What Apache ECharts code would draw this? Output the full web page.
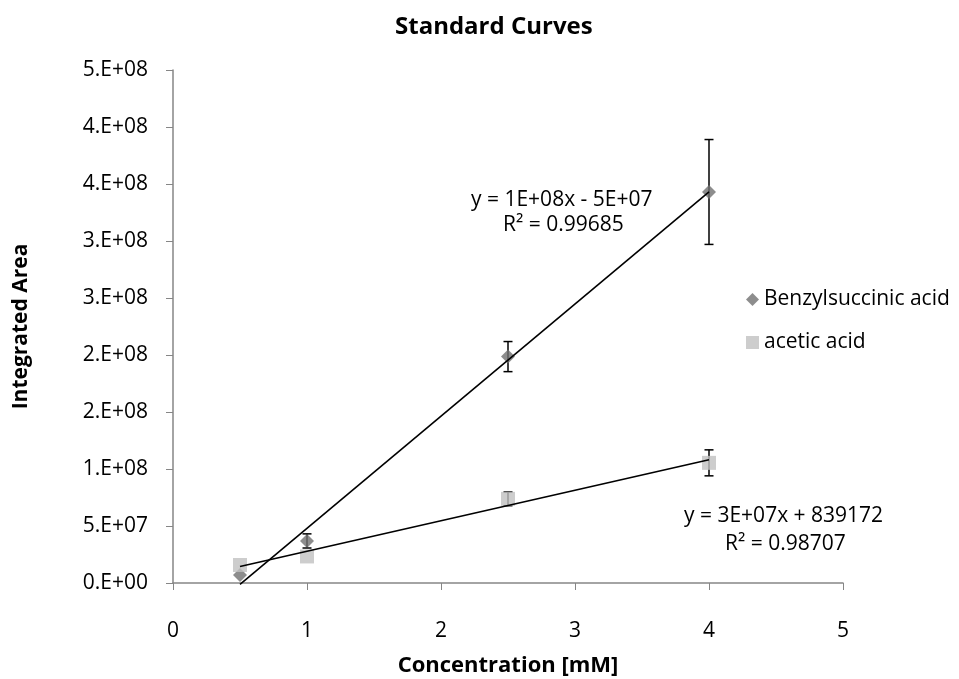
<!DOCTYPE html>
<html>
<head>
<meta charset="utf-8">
<script src="https://cdn.jsdelivr.net/npm/echarts@6/dist/echarts.min.js"></script>
<style>html,body{margin:0;padding:0;background:#fff}#c{width:959px;height:679px}</style>
</head>
<body>
<div id="c"></div>
<script>
const concentrations = [0.5, 1, 2.5, 4];
const benzylValues = [7.0e6, 3.69e7, 1.986e8, 3.43e8];
const benzylErrors = [0, 6.2e6, 1.32e7, 4.6e7];
const aceticValues = [1.58e7, 2.33e7, 7.38e7, 1.054e8];
const aceticErrors = [0, 0, 6.0e6, 1.14e7];
const yTickLabels = ['0.E+00','5.E+07','1.E+08','2.E+08','2.E+08','3.E+08','3.E+08','4.E+08','4.E+08','5.E+08'];
const xTickLabels = ['0','1','2','3','4','5'];
const benzylEq = ['y = 1E+08x - 5E+07', 'R² = 0.99685'];
const aceticEq = ['y = 3E+07x + 839172', 'R² = 0.98707'];

function fit(xs, ys) {
  const n = xs.length;
  const mx = xs.reduce((a,b)=>a+b,0)/n, my = ys.reduce((a,b)=>a+b,0)/n;
  let sxy = 0, sxx = 0;
  for (let i=0;i<n;i++){ sxy += (xs[i]-mx)*(ys[i]-my); sxx += (xs[i]-mx)**2; }
  const m = sxy/sxx; return {m, b: my - m*mx};
}
function trend(xs, ys) {
  const f = fit(xs, ys);
  const x0 = Math.min(...xs), x1 = Math.max(...xs);
  return [[x0, f.m*x0+f.b], [x1, f.m*x1+f.b]];
}
function errData(vals, errs) {
  return concentrations.map((x,i)=>[x, vals[i]-errs[i], vals[i]+errs[i]]);
}
function errRender(params, api) {
  const x = api.value(0), lo = api.value(1), hi = api.value(2);
  if (hi === lo) return null;
  const p1 = api.coord([x, lo]), p2 = api.coord([x, hi]);
  const w = 4.5;
  const st = {stroke:'#000', lineWidth:1.5};
  return {type:'group', children:[
    {type:'line', shape:{x1:p1[0],y1:p1[1],x2:p2[0],y2:p2[1]}, style:st},
    {type:'line', shape:{x1:p1[0]-w,y1:p1[1],x2:p1[0]+w,y2:p1[1]}, style:st},
    {type:'line', shape:{x1:p2[0]-w,y1:p2[1],x2:p2[0]+w,y2:p2[1]}, style:st}
  ]};
}
const FONT = '"Open Sans"';
const TXT = 21;
const chart = echarts.init(document.getElementById('c'));
chart.setOption({
  animation: false,
  backgroundColor: '#fff',
  textStyle: {fontFamily: FONT},
  title: {text: 'Standard Curves', left: 390, top: 10,
    textStyle: {fontFamily: FONT, fontSize: 24, fontWeight: 'bold', color: '#000'}},
  grid: {left: 173, right: 116, top: 70, bottom: 96, containLabel: false, outerBoundsMode: 'none'},
  legend: {
    orient: 'vertical', left: 741, top: 284, itemGap: 22,
    itemWidth: 13, itemHeight: 13,
    data: [{name:'Benzylsuccinic acid', icon:'diamond'}, {name:'acetic acid', icon:'rect'}],
    textStyle: {fontFamily: FONT, fontSize: TXT, color: '#000'}
  },
  xAxis: {
    type: 'value', min: 0, max: 5, interval: 1,
    name: 'Concentration [mM]', nameLocation: 'middle', nameGap: 72,
    nameTextStyle: {fontFamily: FONT, fontSize: 22, fontWeight: 'bold', color: '#000'},
    axisLine: {show: true, lineStyle: {color: '#868686', width: 1.5}},
    axisTick: {show: true, length: 7, lineStyle: {color: '#868686'}},
    axisLabel: {fontFamily: FONT, fontSize: 21, color: '#000', margin: 38,
      formatter: v => xTickLabels[Math.round(v)]},
    splitLine: {show: false}
  },
  yAxis: {
    type: 'value', min: 0, max: 4.5e8, interval: 5e7,
    name: 'Integrated Area', nameLocation: 'middle', nameGap: 141, nameRotate: 90,
    nameTextStyle: {fontFamily: FONT, fontSize: 21, fontWeight: 'bold', color: '#000'},
    axisLine: {show: true, lineStyle: {color: '#868686', width: 1.5}},
    axisTick: {show: true, length: 7, lineStyle: {color: '#868686'}},
    axisLabel: {fontFamily: FONT, fontSize: 21, color: '#000', margin: 25,
      formatter: v => yTickLabels[Math.round(v/5e7)]},
    splitLine: {show: false}
  },
  series: [
    {name:'benzErr', type:'custom', renderItem: errRender, data: errData(benzylValues, benzylErrors), z:2},
    {name:'aceErr', type:'custom', renderItem: errRender, data: errData(aceticValues, aceticErrors), z:2},
    {name:'Benzylsuccinic acid', type:'scatter', symbol:'diamond', symbolSize:14,
      itemStyle:{color:'#717171'}, data: concentrations.map((x,i)=>[x, benzylValues[i]]), z:3},
    {name:'acetic acid', type:'scatter', symbol:'rect', symbolSize:14,
      itemStyle:{color:'#c0c0c0'}, data: concentrations.map((x,i)=>[x, aceticValues[i]]), z:3},
    {name:'benzTrend', type:'line', symbol:'none', data: trend(concentrations, benzylValues),
      lineStyle:{color:'#000', width:1.6}, z:5, clip:false},
    {name:'aceTrend', type:'line', symbol:'none', data: trend(concentrations, aceticValues),
      lineStyle:{color:'#000', width:1.6}, z:5}
  ],
  graphic: [
    {type:'text', left: 471, top: 190, style:{text: benzylEq[0], font:TXT+'px '+FONT, fill:'#000'}},
    {type:'text', left: 503, top: 215, style:{text: benzylEq[1], font:TXT+'px '+FONT, fill:'#000'}},
    {type:'text', left: 684, top: 506, style:{text: aceticEq[0], font:TXT+'px '+FONT, fill:'#000'}},
    {type:'text', left: 725, top: 534, style:{text: aceticEq[1], font:TXT+'px '+FONT, fill:'#000'}}
  ]
});
</script>
</body>
</html>
